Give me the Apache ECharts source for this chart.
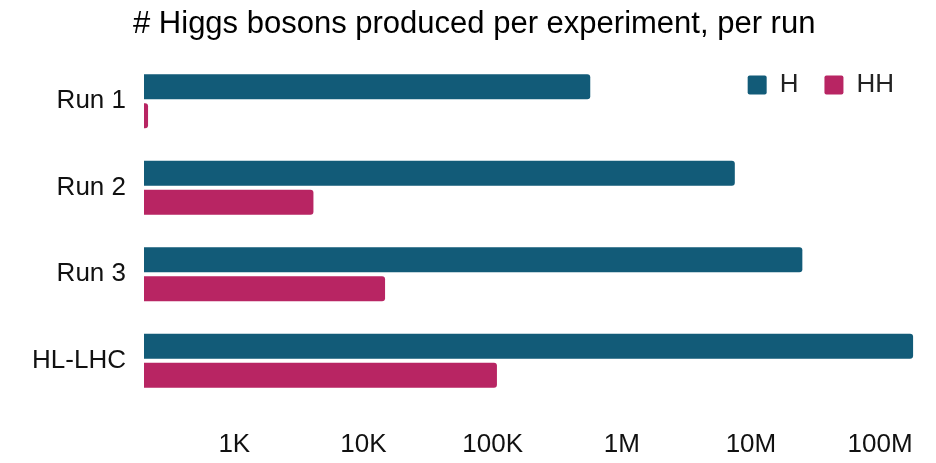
<!DOCTYPE html>
<html>
<head>
<meta charset="utf-8">
<script src="https://cdn.jsdelivr.net/npm/echarts@6/dist/echarts.min.js"></script>
<style>
html,body{margin:0;padding:0;background:#fff;}
#chart{width:936px;height:463px;}
</style>
</head>
<body>
<div id="chart"></div>
<script>
const categories = ['Run 1', 'Run 2', 'Run 3', 'HL-LHC'];
const seriesNames = ['H', 'HH'];
const valuesH = [570000, 7500000, 25000000, 180000000];
const valuesHH = [215, 4100, 14700, 108000];
const tickValues = [1e3, 1e4, 1e5, 1e6, 1e7, 1e8];
const tickLabels = ['1K', '10K', '100K', '1M', '10M', '100M'];

const colors = ['#125b78', '#b82563'];
const font = 'Liberation Sans, Arial, sans-serif';

function fmt(v) {
  for (let i = 0; i < tickValues.length; i++) {
    if (Math.abs(Math.log10(v) - Math.log10(tickValues[i])) < 1e-6) return tickLabels[i];
  }
  return '';
}

const chart = echarts.init(document.getElementById('chart'), null, {renderer: 'canvas'});
chart.setOption({
  animation: false,
  backgroundColor: '#ffffff',
  title: {
    text: '# Higgs bosons produced per experiment, per run',
    left: 128,
    top: 4,
    textStyle: {fontFamily: font, fontSize: 31, fontWeight: 'normal', color: '#000'}
  },
  legend: {
    data: seriesNames,
    right: 37,
    top: 67,
    icon: 'path://M2,0 L17,0 Q19,0 19,2 L19,17 Q19,19 17,19 L2,19 Q0,19 0,17 L0,2 Q0,0 2,0 Z',
    itemWidth: 19,
    itemHeight: 19,
    itemGap: 26,
    textStyle: {fontFamily: font, fontSize: 26, color: '#222', padding: [0, 0, 0, 8]}
  },
  grid: {left: 144, right: 17, top: 58, bottom: 59, containLabel: false},
  xAxis: {
    type: 'log',
    min: 200,
    max: 200000000,
    axisLine: {show: false},
    axisTick: {show: false},
    splitLine: {show: false},
    axisLabel: {
      formatter: fmt,
      fontFamily: font,
      fontSize: 26,
      color: '#111',
      margin: 28,
      showMinLabel: false,
      showMaxLabel: false
    }
  },
  yAxis: {
    type: 'category',
    data: categories,
    inverse: true,
    axisLine: {show: false},
    axisTick: {show: false},
    splitLine: {show: false},
    axisLabel: {fontFamily: font, fontSize: 26, color: '#111', margin: 18}
  },
  series: [
    {
      name: seriesNames[0],
      type: 'bar',
      data: valuesH,
      barWidth: 25,
      barGap: '16%',
      itemStyle: {color: colors[0], borderRadius: [0, 3, 3, 0]}
    },
    {
      name: seriesNames[1],
      type: 'bar',
      data: valuesHH,
      barWidth: 25,
      barGap: '16%',
      itemStyle: {color: colors[1], borderRadius: [0, 3, 3, 0]}
    }
  ]
});
</script>
</body>
</html>
